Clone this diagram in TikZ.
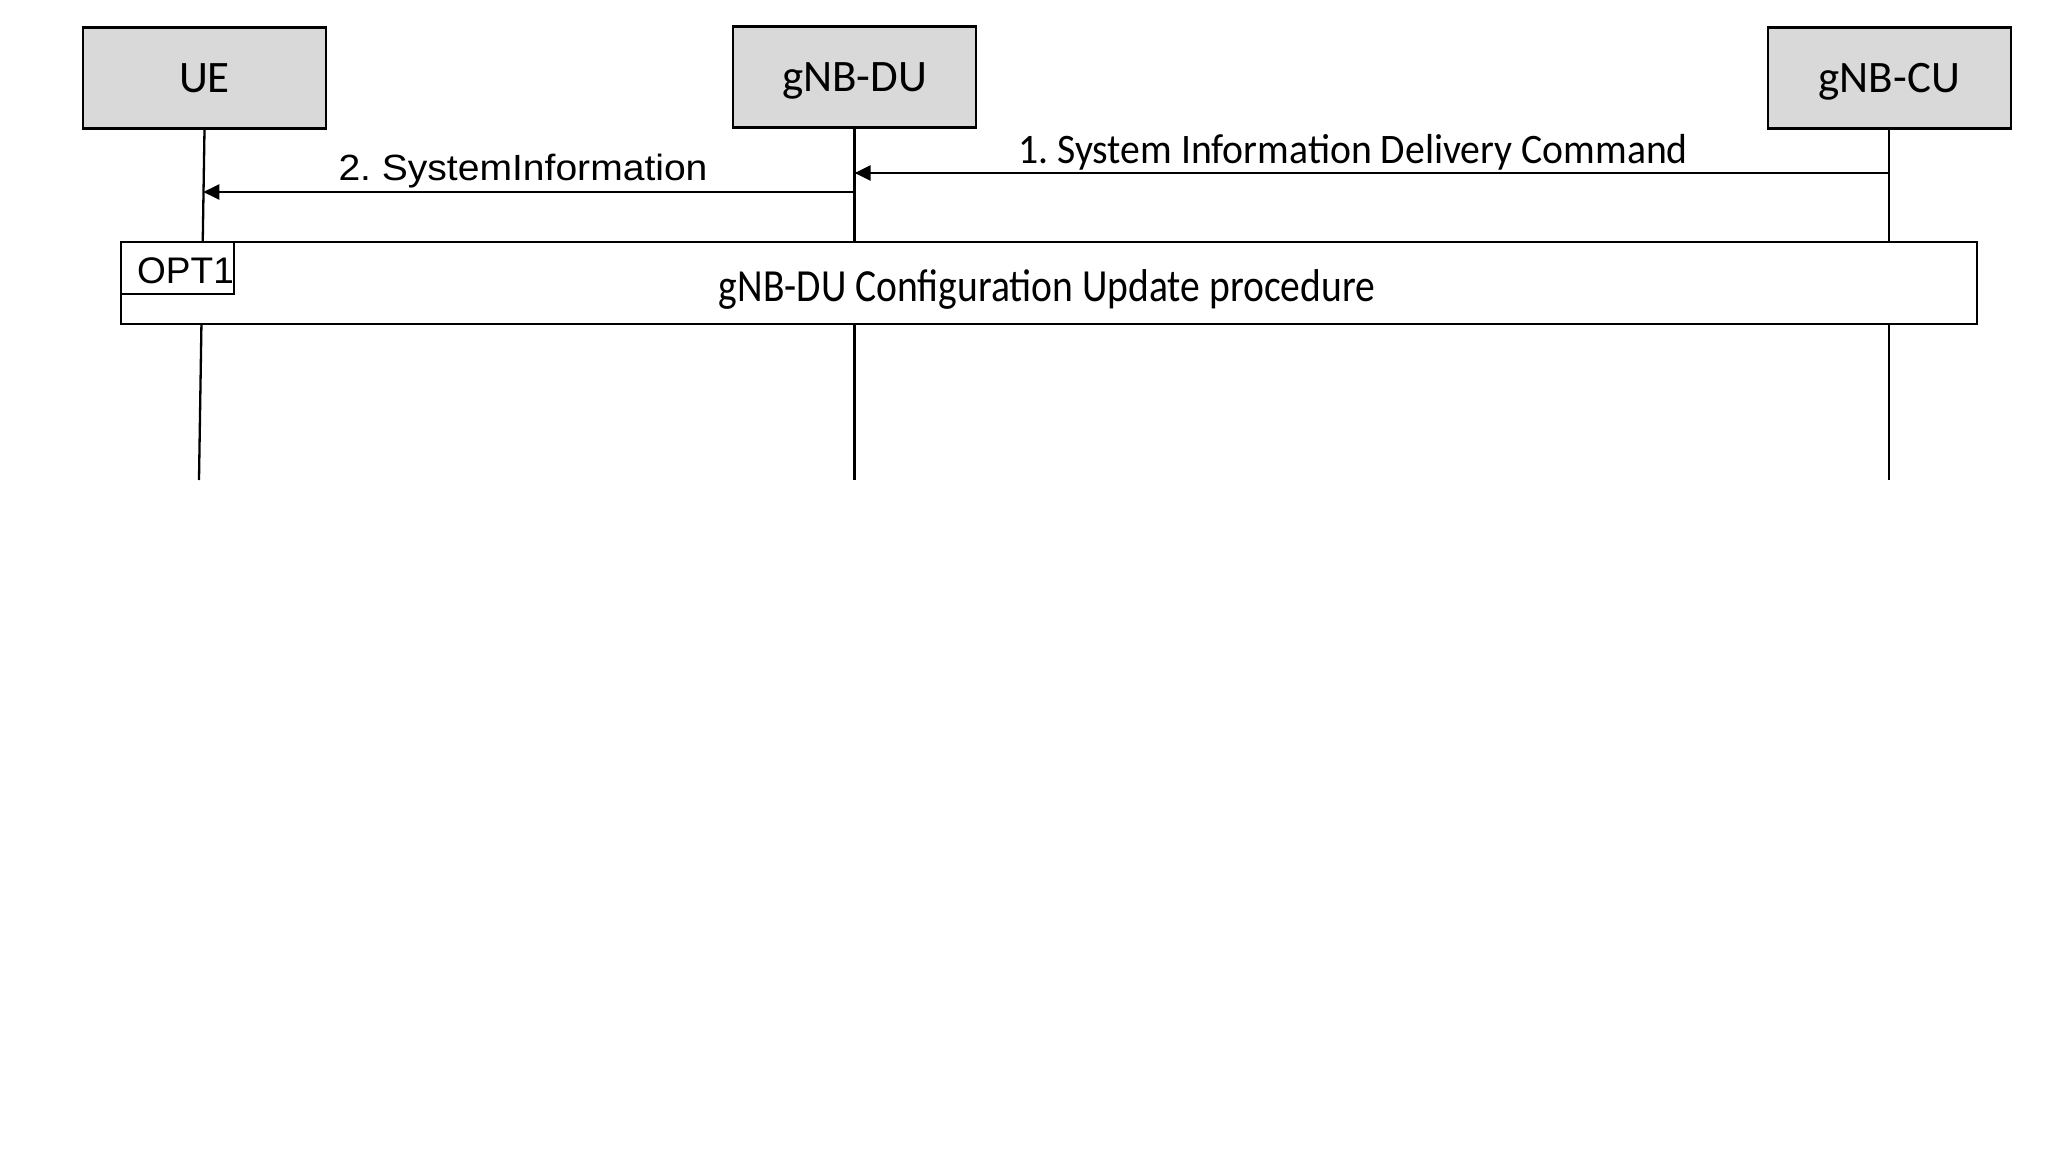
\documentclass[tikz,border=0pt]{standalone}
\usepackage{fontspec}
\setmainfont{Carlito}
\newfontfamily\arialfont{Liberation Sans}
\newfontfamily\arialwide[FakeStretch=1.07]{Liberation Sans}
\newfontfamily\calnarrow[FakeStretch=0.86]{Carlito}
\newfontfamily\calmsg[FakeStretch=0.945]{Carlito}
\usetikzlibrary{arrows.meta}
\definecolor{entgray}{RGB}{217,217,217}
\tikzset{
    entity/.style={draw, fill=entgray, line width=2.3pt, minimum width=243pt,
        minimum height=101pt, text height=28.4pt, text depth=0pt,
        font=\fontsize{45}{52}\selectfont},
    life/.style={line width=2.3pt},
    msg/.style={line width=2.3pt, -{Triangle[length=16pt,width=15pt]}},
    msglabel/.style={anchor=base, inner sep=0pt},
    procframe/.style={draw, fill=white, line width=2.3pt, minimum width=1856pt,
        minimum height=82pt},
    optbox/.style={draw, line width=2.3pt, minimum width=113pt, minimum height=52pt,
        inner sep=0pt, anchor=north west},
}
\begin{document}
\frenchspacing
\begin{tikzpicture}[x=1pt, y=-1pt]
    \useasboundingbox (0,0) rectangle (2048,1154);
    % entities
    \node[entity] (ue) at (204.5,78) {UE};
    \node[entity] (du) at (854.6,77) {gNB-DU};
    \node[entity] (cu) at (1889.2,78) {gNB-CU};
    % lifelines
    \coordinate (ue-end) at (199,480);
    \coordinate (du-end) at (du.south |- 0,480);
    \coordinate (cu-end) at (cu.south |- 0,480);
    \foreach \e in {ue,du,cu}{
        \draw[life] (\e.south) -- (\e-end);
    }
    % 1: CU -> DU
    \coordinate (cu-m1) at (cu.south |- 0,173);
    \coordinate (du-m1) at (du.south |- 0,173);
    \draw[msg] (cu-m1) -- (du-m1);
    \node[msglabel, font=\calmsg\fontsize{42}{48}\selectfont] (m1) at (1353,163)
        {1. System Information Delivery Command};
    % 2: DU -> UE
    \coordinate (du-m2) at (du.south |- 0,192);
    \coordinate (ue-m2) at (203.3,192);
    \draw[msg] (du-m2) -- (ue-m2);
    \node[msglabel, font=\arialwide\fontsize{36.5}{43}\selectfont] (m2) at (523,180)
        {2. SystemInformation};
    % optional procedure
    \node[procframe] (proc) at (1049,283) {};
    \node[msglabel, font=\calnarrow\fontsize{46}{52}\selectfont] (proclabel)
        at (1047,301.7) {gNB-DU Configuration Update procedure};
    \node[optbox] (opt) at (proc.north west) {};
    \node[anchor=base west, inner sep=0pt, font=\arialfont\fontsize{37}{43}\selectfont]
        (optlabel) at (137,283) {OPT1};
\end{tikzpicture}
\end{document}
